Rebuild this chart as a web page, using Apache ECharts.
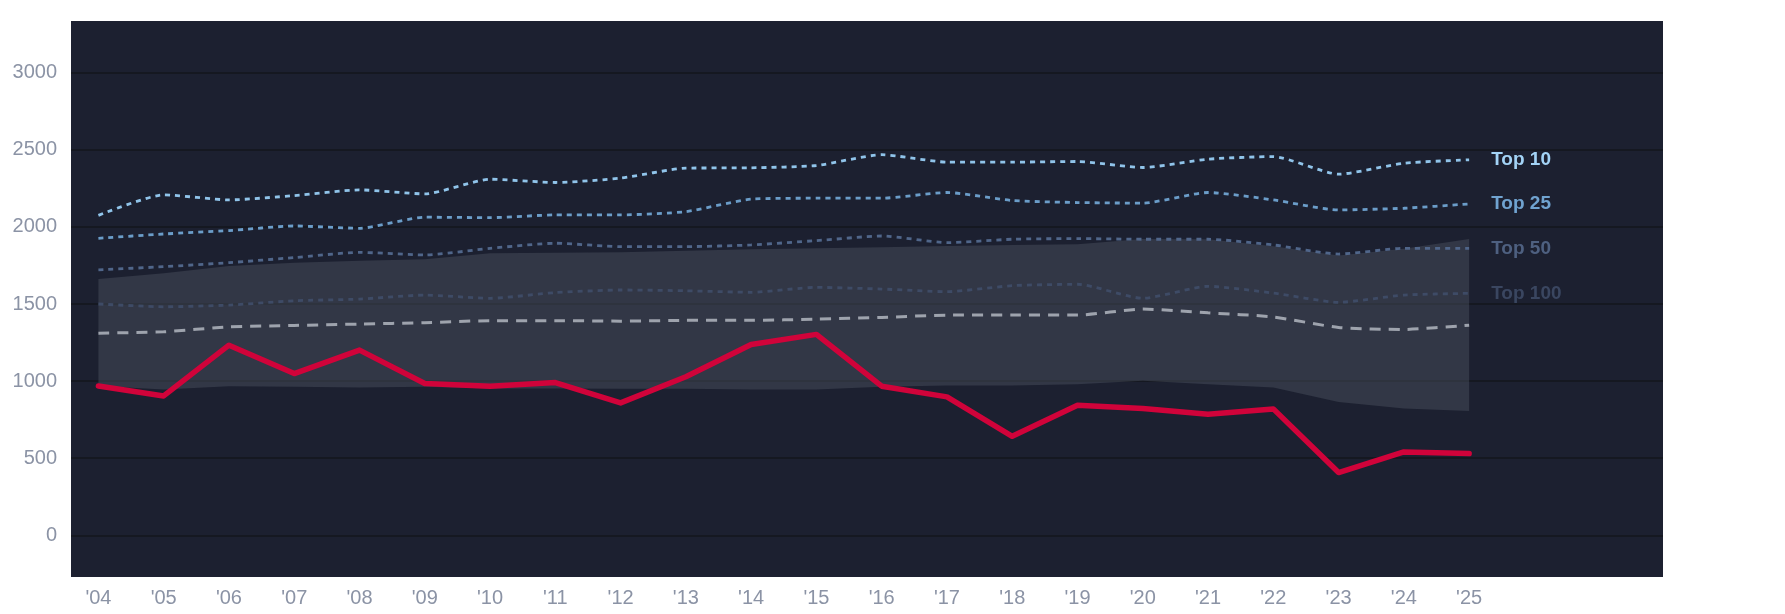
<!DOCTYPE html>
<html>
<head>
<meta charset="utf-8">
<script src="https://cdn.jsdelivr.net/npm/echarts@6/dist/echarts.min.js"></script>
<style>
html,body{margin:0;padding:0;background:#ffffff;}
#chart{width:1785px;height:614px;}
</style>
</head>
<body>
<div id="chart"></div>
<script>
const categories = ["'04","'05","'06","'07","'08","'09","'10","'11","'12","'13","'14","'15","'16","'17","'18","'19","'20","'21","'22","'23","'24","'25"];
const top10  = [2075,2208,2175,2203,2240,2214,2309,2288,2316,2381,2383,2398,2468,2420,2420,2424,2385,2439,2456,2342,2413,2435];
const top25  = [1926,1954,1976,2006,1991,2063,2060,2078,2078,2099,2180,2186,2186,2223,2171,2158,2154,2223,2175,2110,2121,2149];
const top50  = [1721,1742,1768,1801,1835,1818,1861,1894,1872,1872,1883,1911,1941,1898,1920,1924,1920,1920,1883,1824,1861,1861];
const top100 = [1500,1482,1493,1521,1532,1558,1537,1574,1591,1586,1576,1608,1597,1580,1619,1628,1537,1615,1571,1511,1558,1569];
const median = [1311,1320,1352,1361,1370,1379,1392,1392,1389,1394,1394,1402,1413,1428,1428,1428,1467,1443,1416,1348,1335,1363];
const bandLow  = [968,945,967,963,958,963,952,952,950,950,945,945,963,972,972,980,1002,980,958,865,822,807];
const bandHigh = [1662,1699,1747,1768,1781,1790,1829,1833,1835,1846,1855,1861,1868,1876,1883,1887,1922,1920,1875,1815,1858,1922];
const team   = [969,904,1233,1049,1201,985,967,991,859,1028,1238,1303,967,898,642,844,823,785,820,407,541,530];
const yTicks = [0,500,1000,1500,2000,2500,3000];

const pts = arr => arr.map((v,i)=>[i,v]);
// value first, index second: lets the stack accumulate on the value dimension
const vpts = arr => arr.map((v,i)=>[v,i]);
const FONT = "'Liberation Sans', Arial, sans-serif";

function dotted(name, data, color, labelColor){
  return {
    name, type:'line', data: pts(data), symbol:'none', smooth:0.2,
    lineStyle:{color, width:2.8, type:[5,5]},
    endLabel:{show:true, formatter:name, color:labelColor, fontSize:19, fontWeight:'bold', fontFamily:FONT, distance:22},
    z:3
  };
}

const chart = echarts.init(document.getElementById('chart'));
chart.setOption({
  animation:false,
  backgroundColor:'#ffffff',
  grid:{left:71, top:21, width:1592, height:556, show:true, backgroundColor:'#1c2030', borderWidth:0},
  xAxis:{
    type:'value', min:-0.42, max:23.97, splitNumber:24,
    axisLine:{show:false}, axisTick:{show:false}, splitLine:{show:false},
    axisLabel:{
      showMinLabel:false, showMaxLabel:false,
      color:'#8b93a5', fontSize:20, fontFamily:FONT, margin:11,
      formatter: v => (Number.isInteger(v) && categories[v]) ? categories[v] : ''
    }
  },
  yAxis:{
    type:'value', min:-270, max:3335, splitNumber:7,
    axisLine:{show:false}, axisTick:{show:false},
    splitLine:{show:true, showMinLine:false, showMaxLine:false, lineStyle:{color:'#151821', width:2}},
    axisLabel:{
      showMinLabel:false, showMaxLabel:false,
      color:'#8b93a5', fontSize:20, fontFamily:FONT, margin:14,
      formatter: v => yTicks.indexOf(v) >= 0 ? String(v) : ''
    }
  },
  series:[
    {name:'bandBase', type:'line', stack:'band', data:vpts(bandLow), encode:{x:1, y:0},
      symbol:'none', lineStyle:{opacity:0}, z:1, silent:true},
    {name:'band', type:'line', stack:'band', data:vpts(bandHigh.map((v,i)=>v-bandLow[i])), encode:{x:1, y:0},
      symbol:'none', lineStyle:{opacity:0}, areaStyle:{color:'rgba(72,77,92,0.5)', opacity:1}, z:1, silent:true},
    dotted('Top 100', top100, '#3e4b66', '#3a4660'),
    dotted('Top 50', top50, '#50668a', '#4e6080'),
    dotted('Top 25', top25, '#6b9dc9', '#70a3d0'),
    dotted('Top 10', top10, '#90c4ea', '#a3d3f6'),
    {name:'median', type:'line', data:pts(median), symbol:'none', smooth:0.2,
      lineStyle:{color:'#9ea3ad', width:3, type:[11,8]}, z:4},
    {name:'team', type:'line', data:pts(team), symbol:'none',
      lineStyle:{color:'#d0033a', width:5.5, cap:'round', join:'round'}, z:5}
  ]
});
</script>
</body>
</html>
